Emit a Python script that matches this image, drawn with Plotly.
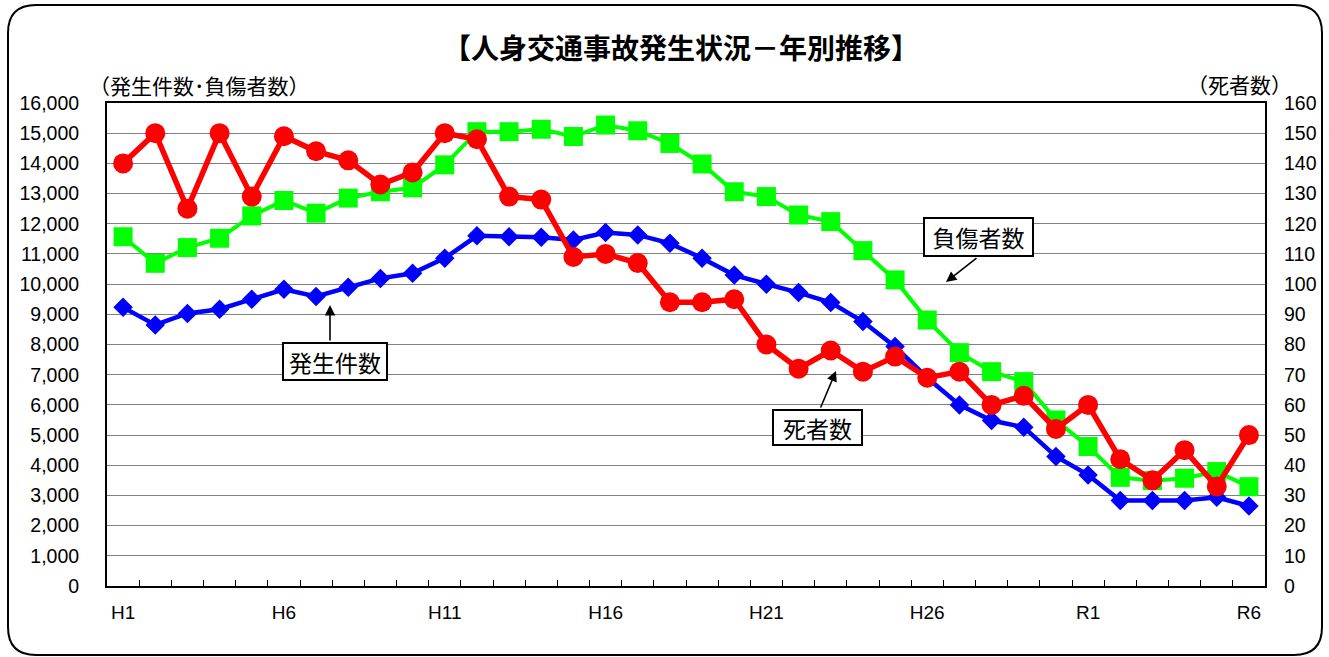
import plotly.graph_objects as go

# ---- data ----
years = [f"H{i}" for i in range(1, 31)] + [f"R{i}" for i in range(1, 7)]
tick_labels = ["H1", "H6", "H11", "H16", "H21", "H26", "R1", "R6"]

accidents = [9230, 8650, 9030, 9170, 9500, 9830, 9590, 9900, 10190, 10360,
             10860, 11600, 11570, 11550, 11460, 11710, 11630, 11350, 10860, 10300,
             10000, 9720, 9390, 8760, 7930, 6900, 6000, 5480, 5260, 4290,
             3680, 2830, 2830, 2830, 2940, 2650]
injured = [11570, 10690, 11210, 11520, 12260, 12770, 12350, 12850, 13060, 13190,
           13950, 15050, 15050, 15130, 14890, 15270, 15080, 14660, 13980, 13060,
           12900, 12290, 12070, 11110, 10140, 8810, 7730, 7100, 6770, 5500,
           4620, 3600, 3490, 3570, 3790, 3290]
deaths = [140, 150, 125, 150, 129, 149, 144, 141, 133, 137,
          150, 148, 129, 128, 109, 110, 107, 94, 94, 95,
          80, 72, 78, 71, 76, 69, 71, 60, 63, 52,
          60, 42, 35, 45, 33, 50]

# ---- layout geometry (pixels) ----
W, H = 1329, 657
L, R, T, B = 107, 64, 103, 71
PW, PH = W - L - R, H - T - B


def px(x):
    return (x - L) / PW


def py(y):
    return (H - B - y) / PH


JP = "Noto Sans CJK JP"
NUM = "Liberation Sans, Arial, sans-serif"

fig = go.Figure()
fig.add_trace(go.Scatter(
    x=years, y=accidents, name="発生件数", mode="lines+markers",
    line=dict(color="#0000FF", width=4.5),
    marker=dict(symbol="diamond", size=15, color="#0000FF"),
))
fig.add_trace(go.Scatter(
    x=years, y=injured, name="負傷者数", mode="lines+markers",
    line=dict(color="#00FF00", width=4),
    marker=dict(symbol="square", size=19, color="#00FF00"),
))
fig.add_trace(go.Scatter(
    x=years, y=deaths, name="死者数", mode="lines+markers", yaxis="y2",
    line=dict(color="#FF0000", width=5.5),
    marker=dict(symbol="circle", size=20, color="#FF0000"),
))

ticktext = [y if y in tick_labels else "" for y in years]

fig.update_layout(
    width=W, height=H, autosize=False,
    margin=dict(l=L, r=R, t=T, b=B, pad=0, autoexpand=False),
    paper_bgcolor="white", plot_bgcolor="white",
    showlegend=False,
    font=dict(family=NUM, size=19.5, color="black"),
    xaxis=dict(
        type="category", categoryorder="array", categoryarray=years,
        tickmode="array", tickvals=years, ticktext=ticktext, tickangle=0,
        tickson="boundaries", ticks="inside", ticklen=6, tickwidth=1, tickcolor="black",
        showgrid=False, showline=True, linecolor="black", linewidth=2, mirror=True,
        tickfont=dict(family=NUM, size=19), ticklabelstandoff=8,
        range=[-0.5, len(years) - 0.5], zeroline=False, automargin=False,
    ),
    yaxis=dict(
        range=[0, 16000], dtick=1000, tickformat=",d",
        showgrid=True, gridcolor="#808080", gridwidth=1,
        showline=True, linecolor="black", linewidth=2, mirror=True,
        ticks="", tickfont=dict(family=NUM, size=19.5), ticklabelstandoff=22,
        zeroline=False, automargin=False,
    ),
    yaxis2=dict(
        range=[0, 160], dtick=10, overlaying="y", side="right",
        showgrid=False, showline=False, ticks="",
        tickfont=dict(family=NUM, size=19.5), ticklabelstandoff=18,
        zeroline=False, automargin=False,
    ),
)

# outer rounded frame
X0, Y0, X1, Y1, rr = 8, 5, 1322, 655, 28
pts = [
    ("M", [(X0 + rr, Y0)]), ("L", [(X1 - rr, Y0)]), ("Q", [(X1, Y0), (X1, Y0 + rr)]),
    ("L", [(X1, Y1 - rr)]), ("Q", [(X1, Y1), (X1 - rr, Y1)]), ("L", [(X0 + rr, Y1)]),
    ("Q", [(X0, Y1), (X0, Y1 - rr)]), ("L", [(X0, Y0 + rr)]), ("Q", [(X0, Y0), (X0 + rr, Y0)]),
]
path = " ".join(c + " " + " ".join(f"{px(a):.5f},{py(b):.5f}" for a, b in p) for c, p in pts) + " Z"
fig.add_shape(type="path", path=path, xref="paper", yref="paper",
              line=dict(color="black", width=2), layer="above")

# title and axis titles
fig.add_annotation(text="【人身交通事故発生状況－年別推移】", x=px(681), y=py(47),
                   xref="paper", yref="paper", showarrow=False,
                   font=dict(family=JP, size=28, color="black", weight="bold"),
                   xanchor="center", yanchor="middle")
fig.add_annotation(text="（発生件数･負傷者数）", x=px(87), y=py(85),
                   xref="paper", yref="paper", showarrow=False,
                   font=dict(family=JP, size=21, color="black"),
                   xanchor="left", yanchor="middle")
fig.add_annotation(text="（死者数）", x=px(1294), y=py(84),
                   xref="paper", yref="paper", showarrow=False,
                   font=dict(family=JP, size=21, color="black"),
                   xanchor="right", yanchor="middle")

# callout boxes
boxes = [
    ("発生件数", 334.5, 361, 102, 35),
    ("負傷者数", 978.5, 237, 107, 36),
    ("死者数", 817, 427.5, 87, 33),
]
for txt, cx, cy, bw, bh in boxes:
    fig.add_annotation(text=txt, x=px(cx), y=py(cy), xref="paper", yref="paper",
                       showarrow=False, bgcolor="white", bordercolor="black",
                       borderwidth=2, borderpad=0, width=bw, height=bh,
                       font=dict(family=JP, size=23, color="black"),
                       xanchor="center", yanchor="middle")

# arrows (tail -> tip)
arrows = [
    ((330, 342), (330, 305)),
    ((978, 257), (946, 282)),
    ((820, 409), (836, 371)),
]
for (tx, ty), (hx, hy) in arrows:
    fig.add_annotation(text="", x=px(hx), y=py(hy), xref="paper", yref="paper",
                       showarrow=True, ax=tx - hx, ay=ty - hy,
                       arrowhead=2, arrowsize=1.3, arrowwidth=1.6,
                       arrowcolor="black", standoff=0, startstandoff=0)

fig.write_html("out.html", config={"displayModeBar": False},
               post_script="document.body.style.margin='0px';document.body.style.padding='0px';")
